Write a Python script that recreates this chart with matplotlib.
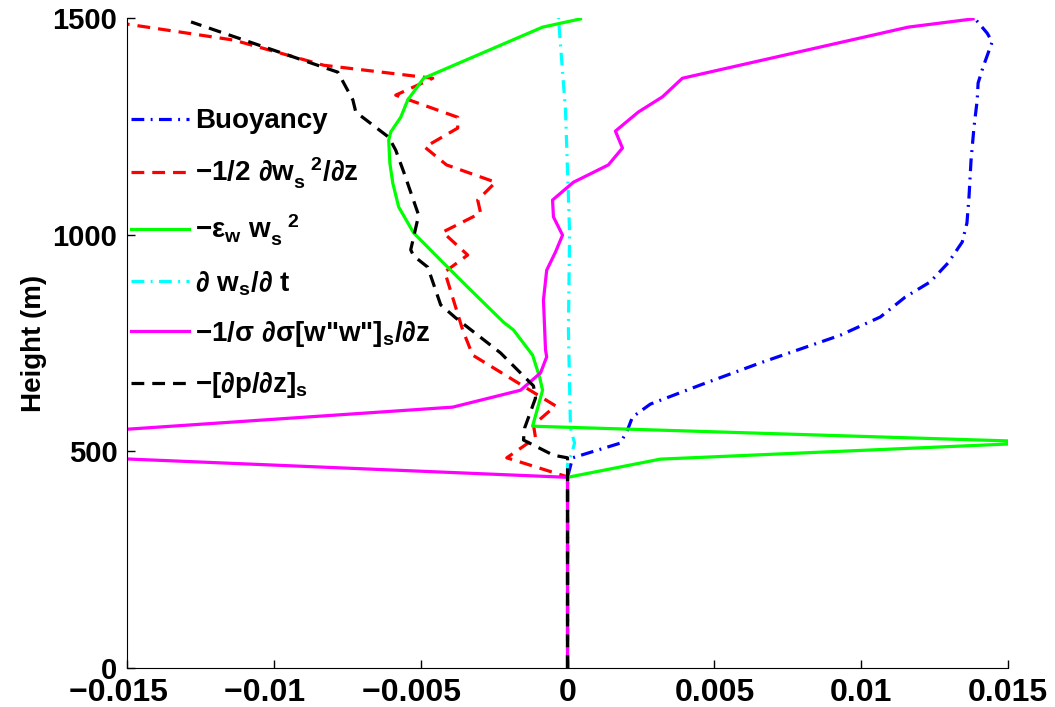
import numpy as np
import matplotlib
matplotlib.use("Agg")
import matplotlib.pyplot as plt

plt.rcParams['font.family'] = ['Liberation Sans', 'DejaVu Sans']
plt.rcParams['font.weight'] = 'bold'
plt.rcParams['mathtext.fontset'] = 'custom'
plt.rcParams['mathtext.rm'] = 'Liberation Sans:bold'
plt.rcParams['mathtext.bf'] = 'Liberation Sans:bold'
plt.rcParams['mathtext.it'] = 'Liberation Sans:bold'
plt.rcParams['mathtext.sf'] = 'Liberation Sans:bold'
plt.rcParams['mathtext.default'] = 'bf'

# ---------------- data (x: term value, z: height in m) ----------------
buoy_x = [0, 0, 0.00017, 0.0018, 0.00204, 0.00221, 0.00282, 0.00452, 0.00656, 0.00929,
          0.01065, 0.0115, 0.01235, 0.01296, 0.01344, 0.0136, 0.01367, 0.01374,
          0.01384, 0.01395, 0.01398, 0.01415, 0.01446, 0.01429, 0.01388]
buoy_z = [0, 440, 485, 519, 549, 579, 609, 653, 704, 768, 810, 856, 891, 935, 983,
          1027, 1087, 1172, 1248, 1311, 1350, 1387, 1445, 1465, 1498]

adv_x = [0, 0, -0.00207, -0.00109, -0.00116, -0.00041, -0.00323, -0.00357, -0.00418,
         -0.0034, -0.00425, -0.00296, -0.00306, -0.00245, -0.00412, -0.00486,
         -0.00374, -0.00374, -0.00585, -0.00459, -0.0083, -0.01136, -0.0152]
adv_z = [0, 441, 485, 531, 561, 605, 722, 780, 914, 953, 1006, 1050, 1080, 1121,
         1161, 1202, 1246, 1271, 1322, 1361, 1391, 1449, 1488]

ent_x = [0, 0, 0.00316, 0.01503, 0.01503, -0.00119, -0.00085, -0.00095, -0.00119,
         -0.00184, -0.00218, -0.0034, -0.00432, -0.00524, -0.00575, -0.00595,
         -0.00605, -0.00609, -0.00602, -0.00568, -0.00544, -0.0049, -0.00085, 0.00044]
ent_z = [0, 440, 482, 517, 524, 558, 641, 671, 722, 780, 798, 879, 941, 1004, 1064,
         1119, 1165, 1218, 1237, 1271, 1311, 1361, 1479, 1498]

tend_x = [0, 0, 0.0, 0.00014, 0.00024, 0.0001, 0.00003, 0.00007, 0.00003, -0.00007,
          -0.00031]
tend_z = [0, 440, 470, 495, 519, 554, 780, 1004, 1087, 1288, 1500]

turb_x = [0, 0, -0.017, -0.017, -0.015, -0.00391, -0.0016, -0.00092, -0.00071,
          -0.00075, -0.00082, -0.00071, -0.00041, -0.00017, -0.00048, -0.00051,
          0.0002, 0.00139, 0.00187, 0.00163, 0.00241, 0.00323, 0.00391, 0.0116, 0.01381]
turb_z = [0, 440, 488, 542, 551, 602, 641, 681, 718, 734, 849, 918, 960, 999, 1041,
          1080, 1121, 1161, 1200, 1239, 1283, 1318, 1361, 1479, 1498]

pres_x = [0, 0, 0, -0.00048, -0.0015, -0.00146, -0.00109, -0.00116, -0.00228,
          -0.00381, -0.00432, -0.00476, -0.00524, -0.00534, -0.00507, -0.00558,
          -0.00585, -0.00609, -0.00721, -0.00731, -0.00782, -0.01282]
pres_z = [0, 440, 485, 491, 526, 554, 623, 651, 727, 808, 838, 925, 951, 965, 1045,
          1145, 1195, 1225, 1283, 1311, 1375, 1491]

labels = ['Buoyancy',
          r'$-1/2\ \partial w_s^{\quad 2}/\partial z$',
          r'$-\varepsilon_w\ w_s^{\quad 2}$',
          r'$\partial\ w_s/\partial\ t$',
          r'$-1/\sigma\ \partial\sigma[w$"$w$"$]_s/\partial z$',
          r'$-[\partial p/\partial z]_s$']

xticks = [-0.015, -0.01, -0.005, 0, 0.005, 0.01, 0.015]
xticklabels = ['\u22120.015\u2007', '\u22120.01\u2007', '\u22120.005\u2007',
               '0', '0.005', '0.01', '0.015']
yticks = [0, 500, 1000, 1500]

# ---------------- plot ----------------
fig = plt.figure(figsize=(10.55, 7.07), dpi=100)
ax = fig.add_axes([0.1204, 0.0552, 0.8351, 0.9193])

lw = 2.3
ax.plot(buoy_x, buoy_z, color='#0000ff', lw=lw, ls=(0, (4, 2, 0.6, 2)), label=labels[0])
ax.plot(adv_x, adv_z, color='#ff0000', lw=lw, ls=(0, (4, 2.5)), label=labels[1])
ax.plot(ent_x, ent_z, color='#00ff00', lw=lw, ls='-', label=labels[2])
ax.plot(tend_x, tend_z, color='#00ffff', lw=lw, ls=(0, (4, 2, 0.6, 2)), label=labels[3])
ax.plot(turb_x, turb_z, color='#ff00ff', lw=lw, ls='-', label=labels[4])
ax.plot(pres_x, pres_z, color='#000000', lw=lw, ls=(0, (4, 2.5)), label=labels[5])

ax.set_xlim(-0.015, 0.015)
ax.set_ylim(0, 1500)
ax.set_xticks(xticks)
ax.set_xticklabels(xticklabels, fontsize=23, fontweight='bold')
ax.set_yticks(yticks)
ax.set_yticklabels([str(v) for v in yticks], fontsize=21, fontweight='bold')
ax.tick_params(direction='in', length=6, width=1, top=False, right=False)
ax.tick_params(axis='x', pad=7)
ax.tick_params(axis='y', pad=7)
ax.spines['top'].set_visible(False)
ax.spines['right'].set_visible(False)
ax.set_ylabel('Height (m)', fontsize=20, fontweight='bold', labelpad=4)

leg = ax.legend(loc='upper left', bbox_to_anchor=(0.0045, 0.861), frameon=False,
                prop={'size': 20, 'weight': 'bold'}, handlelength=2.1,
                handletextpad=0.2, labelspacing=0.77, borderaxespad=0, borderpad=0)

fig.savefig('out.png', dpi=100)
